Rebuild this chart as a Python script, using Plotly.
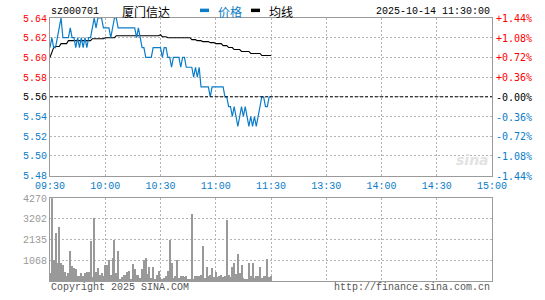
import plotly.graph_objects as go

# ---------------- data ----------------
time_labels = ["09:30", "10:00", "10:30", "11:00", "11:30", "13:30", "14:00", "14:30", "15:00"]
time_ticks = [0, 30, 60, 90, 120, 150, 180, 210, 240]

prev_close = 5.56
price_ticks = [5.48, 5.50, 5.52, 5.54, 5.56, 5.58, 5.60, 5.62, 5.64]
pct_ticks = [-1.44, -1.08, -0.72, -0.36, 0.0, 0.36, 0.72, 1.08, 1.44]
pct_labels = ["-1.44%", "-1.08%", "-0.72%", "-0.36%", "-0.00%", "+0.36%", "+0.72%", "+1.08%", "+1.44%"]
vol_ticks = [1068, 2135, 3202, 4270]

price = [
    5.61, 5.62, 5.61, 5.61, 5.62, 5.63, 5.64, 5.62, 5.62, 5.62,
    5.62, 5.63, 5.62, 5.62, 5.61, 5.62, 5.61, 5.62, 5.61, 5.62,
    5.61, 5.62, 5.62, 5.63, 5.64, 5.63, 5.64, 5.64, 5.64, 5.63,
    5.63, 5.63, 5.63, 5.62, 5.63, 5.64, 5.64, 5.63, 5.63, 5.63,
    5.63, 5.63, 5.63, 5.63, 5.63, 5.63, 5.63, 5.62, 5.63, 5.62,
    5.61, 5.61, 5.60, 5.60, 5.60, 5.60, 5.61, 5.61, 5.61, 5.61,
    5.61, 5.60, 5.61, 5.61, 5.60, 5.60, 5.59, 5.60, 5.60, 5.60,
    5.60, 5.59, 5.60, 5.60, 5.59, 5.59, 5.59, 5.59, 5.58, 5.59,
    5.58, 5.59, 5.57, 5.57, 5.57, 5.57, 5.57, 5.56, 5.57, 5.57,
    5.57, 5.57, 5.57, 5.57, 5.57, 5.56, 5.56, 5.55, 5.55, 5.54,
    5.55, 5.54, 5.53, 5.54, 5.55, 5.54, 5.55, 5.54, 5.53, 5.54,
    5.53, 5.54, 5.53, 5.54, 5.55, 5.56, 5.56, 5.55, 5.55, 5.56,
    5.56,
]

avg = (
    [5.600, 5.605, 5.610, 5.611, 5.611, 5.611]
    + [5.614] * 4
    + [5.617] * 13
    + [5.619] * 7
    + [5.620] * 6
    + [5.622] * 24
    + [5.623]
    + [5.621] * 3
    + [5.620] * 13
    + [5.618] * 3
    + [5.617] * 3
    + [5.616] * 4
    + [5.615] * 3
    + [5.614] * 4
    + [5.612] * 3
    + [5.610] * 3
    + [5.608] * 4
    + [5.606] * 5
    + [5.604] * 6
    + [5.602] * 6
)

volume = [
    400,
    4270, 1067, 2455, 930, 2760, 900, 810, 457, 254, 420,
    1525, 760, 680, 630, 250, 220, 390, 220, 420, 460,
    460, 2030, 170, 3220, 460, 680, 290, 420, 250, 790,
    790, 1067, 320, 1186, 2085, 390, 1525, 85, 190, 290,
    290, 460, 510, 50, 860, 590, 290, 290, 120, 630,
    1067, 1186, 340, 730, 120, 730, 50, 290, 510, 170,
    85, 120, 220, 510, 2120, 900, 120, 220, 1067, 120,
    220, 250, 170, 250, 50, 85, 3470, 85, 220, 250,
    220, 290, 1780, 120, 730, 220, 290, 680, 170, 460,
    170, 220, 290, 170, 220, 3135, 290, 170, 730, 900,
    340, 1405, 390, 830, 120, 85, 85, 900, 220, 930,
    120, 250, 250, 730, 120, 250, 220, 1100, 170, 220,
]

minutes = list(range(len(price)))

# ---------------- style ----------------
BLUE = "#0a7cc8"
RED = "#ff0000"
GRID = "#b4b4b4"
FRAME = "#9a9a9a"
FONT = "Liberation Mono"

W, H = 545, 300
L, R, T, B = 50, 53, 18, 15
PW, PH = W - L - R, H - T - B


def px_x(x):
    return (x - L) / PW


def px_y(y):
    return (H - B - y) / PH


price_dom = [px_y(178), 1.0]
vol_dom = [0.0, px_y(201)]


def color_for(v, ref):
    if abs(v - ref) < 1e-9:
        return "#000000"
    return RED if v > ref else BLUE


price_text = [f'<span style="color:{color_for(v, prev_close)}">{v:.2f}</span>' for v in price_ticks]

fig = go.Figure()

fig.add_trace(go.Scatter(
    x=minutes, y=avg, mode="lines", line=dict(color="#000000", width=1.1),
    xaxis="x", yaxis="y", hoverinfo="skip", showlegend=False,
))
fig.add_trace(go.Scatter(
    x=minutes, y=price, mode="lines", line=dict(color=BLUE, width=1.2),
    xaxis="x", yaxis="y", hoverinfo="skip", showlegend=False,
))
fig.add_trace(go.Bar(
    x=minutes, y=volume, marker=dict(color="#999999", line=dict(width=0)),
    width=0.55, xaxis="x2", yaxis="y2", hoverinfo="skip", showlegend=False,
))

axis_common = dict(
    showline=True, mirror=True, linecolor=FRAME, linewidth=1,
    showgrid=True, gridcolor=GRID, gridwidth=1, griddash="2px,2px",
    zeroline=False, ticks="",
)

fig.update_layout(
    width=W, height=H,
    margin=dict(l=L, r=R, t=T, b=B, pad=0),
    paper_bgcolor="white", plot_bgcolor="white",
    font=dict(family=FONT, size=10, color="#000000"),
    bargap=0,
    xaxis=dict(
        **axis_common, domain=[0, 1], range=[0, 240], anchor="y",
        tickmode="array", tickvals=time_ticks, ticktext=time_labels,
        tickfont=dict(color=BLUE, size=10, family=FONT),
    ),
    xaxis2=dict(
        **axis_common, domain=[0, 1], range=[0, 240], anchor="y2", matches="x",
        tickmode="array", tickvals=time_ticks, showticklabels=False,
    ),
    yaxis=dict(
        **axis_common, domain=price_dom, range=[price_ticks[0], price_ticks[-1]], anchor="x",
        tickmode="array", tickvals=price_ticks, ticktext=price_text,
        tickfont=dict(size=10, family=FONT),
    ),
    yaxis3=dict(
        overlaying="y", side="right", anchor="x", range=[pct_ticks[0], pct_ticks[-1]],
        showticklabels=False, showgrid=False, zeroline=False, showline=False, ticks="",
    ),
    yaxis2=dict(
        **axis_common, domain=vol_dom, range=[0, vol_ticks[-1]], anchor="x2",
        tickmode="array", tickvals=vol_ticks, ticktext=[str(v) for v in vol_ticks],
        tickfont=dict(size=10, family=FONT, color="#999999"),
    ),
)

# middle dashed reference line (previous close)
fig.add_shape(type="line", xref="x", yref="y", x0=0, x1=240, y0=prev_close, y1=prev_close,
              line=dict(color="#000000", width=1, dash="3px,2px"))

# legend markers
fig.add_shape(type="rect", xref="paper", yref="paper",
              x0=px_x(200), x1=px_x(209), y0=px_y(12), y1=px_y(8.5),
              fillcolor=BLUE, line=dict(width=0))
fig.add_shape(type="rect", xref="paper", yref="paper",
              x0=px_x(251), x1=px_x(260), y0=px_y(12), y1=px_y(8.5),
              fillcolor="#000000", line=dict(width=0))

ann = []

# right-hand percent scale, placed on the percent axis
for v, s in zip(pct_ticks, pct_labels):
    ann.append(dict(text=s, x=1.0, y=v, xref="paper", yref="y3", xanchor="left",
                    yanchor="middle", xshift=2, yshift=-0.5, showarrow=False,
                    font=dict(color=color_for(v, 0), size=10, family="DejaVu Sans Mono")))


def add_text(text, x, y, anchor="left", color="#000000", size=10, family=FONT):
    ann.append(dict(text=text, x=px_x(x), y=px_y(y), xref="paper", yref="paper",
                    xanchor=anchor, yanchor="middle", showarrow=False,
                    font=dict(color=color, size=size, family=family)))


add_text("sz000701", 49, 11)
add_text("厦门信达", 120, 11, size=12, family="Noto Sans CJK SC")
add_text("价格", 216, 11, color=BLUE, size=12, family="Noto Sans CJK SC")
add_text("均线", 267, 11, size=12, family="Noto Sans CJK SC")
add_text("2025-10-14 11:30:00", 492, 11, anchor="right")
add_text("Copyright 2025 SINA.COM", 49, 292, color="#555555")
add_text("http://finance.sina.com.cn", 492, 292, anchor="right", color="#555555")
add_text("<b><i>sina</i></b>", 472, 162, anchor="center", color="#e2e2e2", size=14, family="DejaVu Sans")

fig.update_layout(annotations=ann)

fig.write_html("out.html")
